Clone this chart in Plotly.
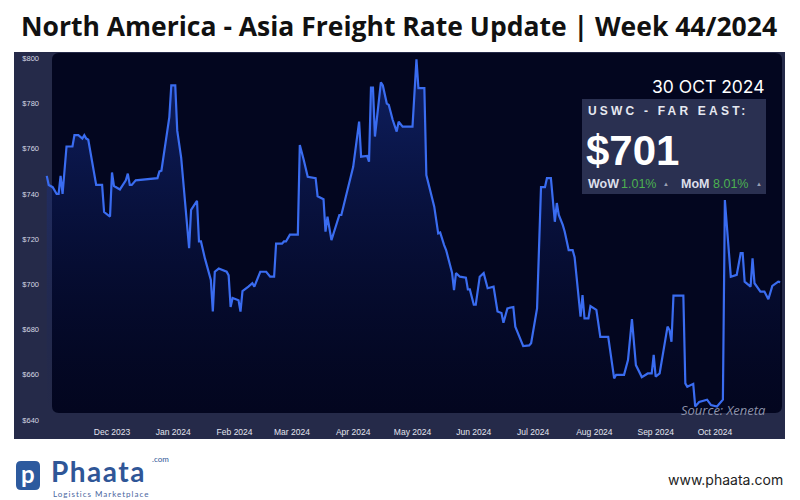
import plotly.graph_objects as go

# ---------------- data ----------------
dates = [
    "2023-10-29", "2023-10-30", "2023-11-01", "2023-11-03", "2023-11-04", "2023-11-05", "2023-11-06",
    "2023-11-08", "2023-11-11", "2023-11-12", "2023-11-14", "2023-11-16", "2023-11-17", "2023-11-18",
    "2023-11-19", "2023-11-21", "2023-11-23", "2023-11-26", "2023-11-27", "2023-11-30", "2023-12-01",
    "2023-12-02", "2023-12-05", "2023-12-08", "2023-12-09", "2023-12-10", "2023-12-11", "2023-12-13",
    "2023-12-24", "2023-12-25", "2023-12-26", "2023-12-30", "2023-12-31", "2024-01-02", "2024-01-03",
    "2024-01-05", "2024-01-09", "2024-01-10", "2024-01-13", "2024-01-14", "2024-01-15", "2024-01-17",
    "2024-01-20", "2024-01-21", "2024-01-22", "2024-01-24", "2024-01-28", "2024-01-29", "2024-01-30",
    "2024-01-31", "2024-02-03", "2024-02-04", "2024-02-05", "2024-02-08", "2024-02-10", "2024-02-11",
    "2024-02-14", "2024-02-17", "2024-02-19", "2024-02-21", "2024-02-22", "2024-02-25", "2024-02-26",
    "2024-02-27", "2024-02-29", "2024-03-04", "2024-03-05", "2024-03-07", "2024-03-09", "2024-03-13",
    "2024-03-14", "2024-03-17", "2024-03-18", "2024-03-19", "2024-03-21", "2024-03-25", "2024-03-26",
    "2024-04-01", "2024-04-04", "2024-04-05", "2024-04-08", "2024-04-09", "2024-04-10", "2024-04-11",
    "2024-04-12", "2024-04-15", "2024-04-16", "2024-04-18", "2024-04-19", "2024-04-21", "2024-04-23",
    "2024-04-24", "2024-04-26", "2024-05-01", "2024-05-02", "2024-05-03", "2024-05-04", "2024-05-07",
    "2024-05-08", "2024-05-12", "2024-05-14", "2024-05-15", "2024-05-17", "2024-05-18", "2024-05-21",
    "2024-05-22", "2024-05-23", "2024-05-25", "2024-05-28", "2024-05-29", "2024-05-30", "2024-06-01",
    "2024-06-02", "2024-06-04", "2024-06-06", "2024-06-07", "2024-06-08", "2024-06-11", "2024-06-13",
    "2024-06-15", "2024-06-16", "2024-06-18", "2024-06-21", "2024-06-22", "2024-06-25", "2024-06-26",
    "2024-06-29", "2024-06-30", "2024-07-03", "2024-07-05", "2024-07-07", "2024-07-08", "2024-07-10",
    "2024-07-12", "2024-07-13", "2024-07-14", "2024-07-16", "2024-07-17", "2024-07-19", "2024-07-21",
    "2024-07-22", "2024-07-25", "2024-07-26", "2024-07-27", "2024-07-29", "2024-07-30", "2024-08-02",
    "2024-08-04", "2024-08-08", "2024-08-11", "2024-08-12", "2024-08-16", "2024-08-18", "2024-08-20",
    "2024-08-22", "2024-08-24", "2024-08-25", "2024-08-28", "2024-08-30", "2024-08-31", "2024-09-01",
    "2024-09-03", "2024-09-07", "2024-09-08", "2024-09-09", "2024-09-10", "2024-09-15", "2024-09-16",
    "2024-09-17", "2024-09-20", "2024-09-21", "2024-09-23", "2024-09-27", "2024-09-29", "2024-10-02",
    "2024-10-05", "2024-10-06", "2024-10-09", "2024-10-12", "2024-10-14", "2024-10-15", "2024-10-16",
    "2024-10-19", "2024-10-20", "2024-10-21", "2024-10-24", "2024-10-26", "2024-10-28", "2024-10-30",
    "2024-11-02", "2024-11-03",
]
rates = [
    748, 744, 743, 740, 740, 748, 740,
    761, 761, 766, 766, 764.5, 766, 764.5,
    764, 754, 744, 744, 732, 730, 749.5,
    743.5, 742, 746, 749, 744, 744, 746,
    747, 750, 750.3, 774, 788, 788, 768,
    756, 716, 733, 737, 719, 719, 711.5,
    702, 688, 705.6, 707, 705.6, 704, 690,
    694, 693, 688, 697, 699, 700.5, 699,
    705.6, 705.6, 703.4, 703.4, 718, 718, 719,
    719, 722, 722, 761.7, 755, 747.6, 747,
    739, 737.7, 723.3, 730, 719.6, 730.7, 730.7,
    752, 772, 756.5, 756.8, 754.3, 787, 787,
    765.4, 789.4, 788, 780, 779.4, 772.7, 767.6,
    772, 769.8, 769.8, 786, 799.6, 786.8, 786.8,
    748.4, 734.4, 722.6, 723, 717.4, 715.2, 705.2,
    697.5, 705, 703.4, 703, 697.8, 697.8, 691,
    691, 703.4, 705, 702, 698.3, 699, 688,
    687.3, 683, 689.4, 690, 681.3, 675.4, 672.7,
    673, 674, 689.4, 743, 743, 747, 747,
    727.7, 736, 730.7, 726.3, 723.3, 715.2, 715.2,
    712, 685.7, 695.3, 685, 685, 690.4, 688.7,
    676.8, 676.8, 658.4, 660, 660, 666.5, 684.6,
    664.3, 660.6, 659, 660.6, 660.6, 668.8, 659.2,
    660.6, 681.3, 679.8, 674.6, 695, 695, 656.2,
    654.7, 656, 646, 648, 649, 646.6, 646,
    649, 737.3, 703.4, 704.2, 713.8, 713.8, 701.2,
    699, 711.5, 700.5, 696.8, 696.8, 693.4, 699.3,
    701.2, 701,
]
y_ticks = [640, 660, 680, 700, 720, 740, 760, 780, 800]
y_tick_labels = ["$640", "$660", "$680", "$700", "$720", "$740", "$760", "$780", "$800"]
month_ticks = ["2023-12-01", "2024-01-01", "2024-02-01", "2024-03-01", "2024-04-01", "2024-05-01",
               "2024-06-01", "2024-07-01", "2024-08-01", "2024-09-01", "2024-10-01"]
month_labels = ["Dec 2023", "Jan 2024", "Feb 2024", "Mar 2024", "Apr 2024", "May 2024",
                "Jun 2024", "Jul 2024", "Aug 2024", "Sep 2024", "Oct 2024"]

title_text = "North America - Asia Freight Rate Update | Week 44/2024"
date_text = "30 OCT 2024"
lane_text = "USWC - FAR EAST:"
price_text = "$701"
wow_text = "1.01%"
mom_text = "8.01%"

# ---------------- layout helpers (pixel -> paper) ----------------
W, H = 800, 500
ML, MR, MT, MB = 40, 15, 52, 75
PW, PH = W - ML - MR, H - MT - MB


def px(x):
    return (x - ML) / PW


def py(y):
    return (H - MB - y) / PH


OUTER = "#252a49"
INNER = "#03061f"
LINE = "#3a6cf0"

fig = go.Figure()
fig.add_trace(go.Scatter(
    x=dates, y=rates, mode="lines",
    line=dict(color=LINE, width=2.2, shape="linear"),
    fill="tozeroy",
    fillgradient=dict(type="vertical", start=643, stop=800,
                      colorscale=[[0, "rgba(10,25,90,0)"], [1, "rgba(28,60,170,0.5)"]]),
    hoverinfo="skip", showlegend=False,
))

shapes = []
# outer panel
shapes.append(dict(type="rect", xref="paper", yref="paper", x0=px(14), x1=px(785), y0=py(439),
                   y1=py(52), fillcolor=OUTER, line=dict(width=0), layer="below"))
# inner dark rounded rect
x0, x1, y0, y1, r = px(52), px(782), py(413), py(53), 7
rx, ry = r / PW, r / PH
path = (f"M {x0+rx},{y1} L {x1-rx},{y1} Q {x1},{y1} {x1},{y1-ry} L {x1},{y0+ry} "
        f"Q {x1},{y0} {x1-rx},{y0} L {x0+rx},{y0} Q {x0},{y0} {x0},{y0+ry} "
        f"L {x0},{y1-ry} Q {x0},{y1} {x0+rx},{y1} Z")
shapes.append(dict(type="path", xref="paper", yref="paper", path=path, fillcolor=INNER,
                   line=dict(width=0), layer="below"))
# info box
shapes.append(dict(type="rect", xref="paper", yref="paper", x0=px(582), x1=px(766), y0=py(194),
                   y1=py(99), fillcolor="#2a3051", line=dict(width=0), layer="above"))
# logo icon
lx0, lx1, ly0, ly1, lr = px(16), px(40), py(490), py(461), 5
lrx, lry = lr / PW, lr / PH
lpath = (f"M {lx0+lrx},{ly1} L {lx1-lrx},{ly1} Q {lx1},{ly1} {lx1},{ly1-lry} L {lx1},{ly0+lry} "
         f"Q {lx1},{ly0} {lx1-lrx},{ly0} L {lx0+lrx},{ly0} Q {lx0},{ly0} {lx0},{ly0+lry} "
         f"L {lx0},{ly1-lry} Q {lx0},{ly1} {lx0+lrx},{ly1} Z")
shapes.append(dict(type="path", xref="paper", yref="paper", path=lpath, fillcolor="#2d5a9e",
                   line=dict(width=0), layer="above"))

ann = []


def A(text, x, y, size, color, family="Liberation Sans, Arial, sans-serif", xanchor="left",
      yanchor="middle"):
    ann.append(dict(text=text, x=px(x), y=py(y), xref="paper", yref="paper", showarrow=False,
                    xanchor=xanchor, yanchor=yanchor, borderpad=0,
                    font=dict(size=size, color=color, family=family)))


A(f"<b>{title_text}</b>", 399, 26, 26.5, "#111111", "Open Sans, sans-serif", "center")
A(date_text, 766, 87, 17.5, "#ffffff", "Inter, Lato, sans-serif", "right")
A(f"<b><span style='letter-spacing:3.2px'>{lane_text}</span></b>", 587, 111, 12, "#e6e8f0")
A(f"<b>{price_text}</b>", 585, 150, 42, "#ffffff")
A("<b>WoW</b>", 587, 184, 12.5, "#dcdeea")
A(wow_text, 620, 184, 12.5, "#4cb050")
A("▲", 666, 184, 6, "#9aa0b5", xanchor="center")
A("<b>MoM</b>", 680, 184, 12.5, "#dcdeea")
A(mom_text, 712, 184, 12.5, "#4cb050")
A("▲", 759, 184, 6, "#9aa0b5", xanchor="center")
A("<i>Source: Xeneta</i>", 767, 410, 13, "#8d93ab", "Open Sans, sans-serif", "right")
# logo texts
A("<b>p</b>", 28, 473, 24, "#ffffff", "Lato, sans-serif", "center")
A("<b><span style='letter-spacing:1.5px'>Phaata</span></b>", 50, 471, 28, "#2f5697",
  "Lato, sans-serif")
A(".com", 151, 459, 8, "#2f5697", "Lato, sans-serif", "left")
A("<span style='letter-spacing:1px'>Logistics Marketplace</span>", 52, 494, 8, "#4a66a0",
  "Lato, sans-serif")
A("www.phaata.com", 784, 480, 14, "#222222", "Inter, Noto Sans, sans-serif", "right")

fig.update_layout(
    width=W, height=H,
    margin=dict(l=ML, r=MR, t=MT, b=MB, pad=0),
    paper_bgcolor="#ffffff", plot_bgcolor="rgba(0,0,0,0)",
    shapes=shapes, annotations=ann, showlegend=False,
    xaxis=dict(range=["2023-10-25 14:00", "2024-11-05 10:00"], tickvals=month_ticks,
               ticktext=month_labels, showgrid=False, zeroline=False, showline=False, ticks="",
               tickfont=dict(size=8.5, color="#e2e4ee",
                             family="Liberation Sans Narrow, Arial Narrow, sans-serif")),
    yaxis=dict(range=[637.8, 802.8], tickvals=y_ticks, ticktext=y_tick_labels, showgrid=False,
               zeroline=False, showline=False, ticks="",
               tickfont=dict(size=7.5, color="#d5d8e4", family="Liberation Sans, Arial, sans-serif")),
)

fig.write_html("out.html")
